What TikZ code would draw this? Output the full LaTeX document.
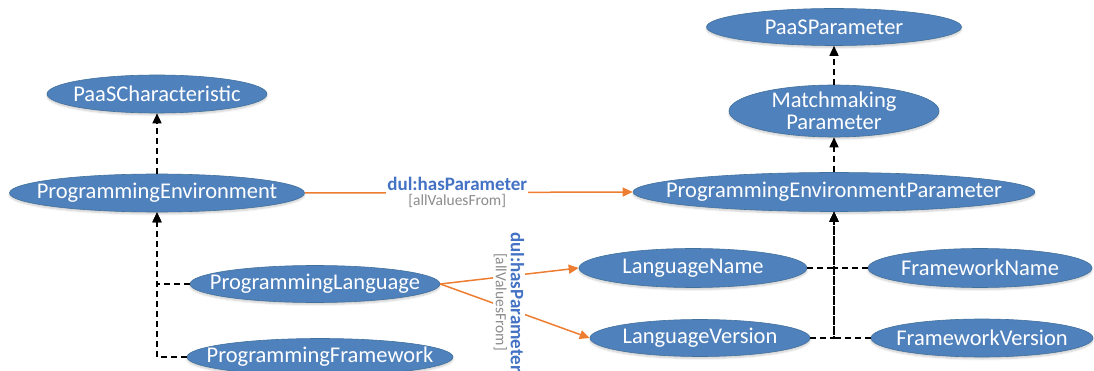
\documentclass[tikz,border=0pt]{standalone}
\usepackage{fontspec}
\setmainfont{Carlito}
\usetikzlibrary{shapes.geometric,arrows.meta,shadows.blur}
\definecolor{ellfill}{HTML}{4F81BD}
\definecolor{elldraw}{HTML}{41719C}
\definecolor{relorange}{HTML}{ED7D31}
\definecolor{relblue}{HTML}{4472C4}
\definecolor{relgray}{HTML}{8C8C8C}
\tikzset{
  ell/.style={ellipse, fill=ellfill, draw=elldraw, line width=0.6pt,
    text=white, inner xsep=-200pt, inner ysep=-40pt,
    font=\fontsize{22.5}{24}\selectfont, align=center,
    blur shadow={shadow xshift=0pt, shadow yshift=-2pt, shadow blur steps=6, shadow opacity=20}},
  isa/.style={line width=1.5pt, dash pattern=on 6pt off 4pt, -{Triangle[length=10pt,width=9pt]}},
  rel/.style={draw=relorange, line width=1.5pt, -{Triangle[length=10pt,width=9pt]}, color=relorange},
  rellbl/.style={fill=white, inner sep=1pt, align=center, text=relblue, font=\fontsize{15.5}{15}\selectfont}
}
\newcommand{\rellabel}{{\fontsize{19}{15}\selectfont\bfseries dul:hasParameter}\\{\fontsize{15.5}{15}\selectfont\color{relgray}[allValuesFrom]}}
\begin{document}
\begin{tikzpicture}[x=1pt,y=-1pt]
\useasboundingbox (0,0) rectangle (1094,371);
% left nodes
\node[ell, minimum width=220pt, minimum height=38pt] (pc) at (157,94) {PaaSCharacteristic};
\node[ell, minimum width=295pt, minimum height=38pt] (pe) at (157,193) {ProgrammingEnvironment};
\node[ell, minimum width=250pt, minimum height=37pt] (pl) at (315,284) {ProgrammingLanguage};
\node[ell, minimum width=266pt, minimum height=37pt] (pf) at (320,357) {ProgrammingFramework};
% right nodes
\node[ell, minimum width=255pt, minimum height=37pt] (pp) at (834,27) {PaaSParameter};
\node[ell, minimum width=210pt, minimum height=52pt] (mp) at (834,111) {Matchmaking\\[-2pt]Parameter};
\node[ell, minimum width=402pt, minimum height=39pt] (pep) at (834,192) {ProgrammingEnvironmentParameter};
\node[ell, minimum width=228pt, minimum height=39pt] (ln) at (693,268) {LanguageName};
\node[ell, minimum width=220pt, minimum height=37pt] (lv) at (700,338) {LanguageVersion};
\node[ell, minimum width=224pt, minimum height=39pt] (fn) at (980,268) {FrameworkName};
\node[ell, minimum width=222pt, minimum height=38pt] (fv) at (982,338) {FrameworkVersion};
% subclass connectors
\draw[isa] (pe.north) -- (pc.south);
\draw[isa] (pl.west) -| (pe.south);
\draw[isa] (pf.west) -| (pe.south);
\draw[isa] (pep.north) -- (mp.south);
\draw[isa] (mp.north) -- (pp.south);
\draw[isa] (ln.east) -| (pep.south);
\draw[isa] (fn.west) -| (pep.south);
\draw[isa] (lv.east) -| (pep.south);
\draw[isa] (fv.west) -| (pep.south);
% relations
\draw[rel] (pe.east) -- node[rellbl, pos=0.465] (lbl1) {\rellabel} (pep.west);
\draw[rel] (pl.east) -- (ln.west);
\draw[rel] (pl.east) -- (lv.west);
\node[rellbl, rotate=-90] (lbl2) at (509,302) {\rellabel};
\end{tikzpicture}
\end{document}
